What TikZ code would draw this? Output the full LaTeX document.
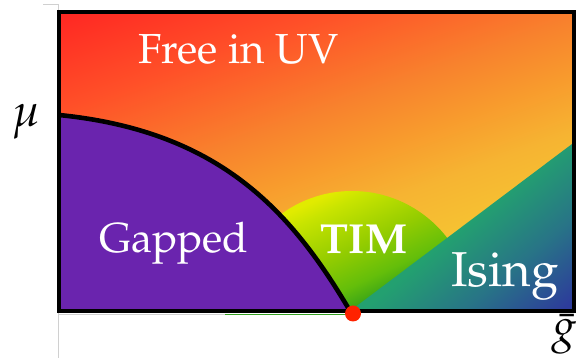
\documentclass[tikz,border=0pt]{standalone}
\usepackage[T1]{fontenc}
\usepackage{mathpazo}
\definecolor{gapPurple}{HTML}{6A24AE}
\definecolor{dotRed}{HTML}{FF2200}
\definecolor{axisGray}{HTML}{D0D0D0}
\definecolor{timLine}{HTML}{34A020}
% background shading stops
\definecolor{bgA}{RGB}{246,205,50}
\definecolor{bgB}{RGB}{246,202,50}
\definecolor{bgC}{RGB}{246,180,50}
\definecolor{bgD}{RGB}{248,155,45}
\definecolor{bgE}{RGB}{248,130,45}
\definecolor{bgF}{RGB}{255,80,40}
\definecolor{bgG}{RGB}{255,40,35}
\pgfdeclareverticalshading{bgshade}{100bp}{color(0bp)=(bgA); color(38bp)=(bgB); color(45bp)=(bgC); color(49.4bp)=(bgD); color(53.75bp)=(bgE); color(61.3bp)=(bgF); color(68.7bp)=(bgG); color(100bp)=(bgG)}
% Ising shading stops
\definecolor{isA}{RGB}{45,55,158}
\definecolor{isB}{RGB}{45,60,155}
\definecolor{isC}{RGB}{40,115,135}
\definecolor{isD}{RGB}{35,160,112}
\definecolor{isE}{RGB}{35,172,108}
\pgfdeclareverticalshading{isingshade}{100bp}{color(0bp)=(isA); color(34bp)=(isB); color(41.75bp)=(isC); color(50bp)=(isD); color(100bp)=(isE)}
% TIM shading stops
\definecolor{tmA}{RGB}{40,155,30}
\definecolor{tmB}{RGB}{50,160,25}
\definecolor{tmC}{RGB}{100,190,10}
\definecolor{tmD}{RGB}{150,205,0}
\definecolor{tmE}{RGB}{200,228,0}
\definecolor{tmF}{RGB}{225,235,0}
\definecolor{tmG}{RGB}{228,236,0}
\pgfdeclareverticalshading{timshade}{100bp}{color(0bp)=(tmA); color(40bp)=(tmB); color(44.3bp)=(tmC); color(50.8bp)=(tmD); color(58.3bp)=(tmE); color(61bp)=(tmF); color(100bp)=(tmG)}
\tikzset{
  phaselabel/.style={text=white, anchor=base, inner sep=0pt},
  axislabel/.style={text=black, anchor=base, inner sep=0pt},
  border/.style={line width=4.3pt, black},
}
\begin{document}
\begin{tikzpicture}[x=1pt,y=1pt]
\useasboundingbox (0,0) rectangle (576,358);
% coordinates
\coordinate (BL) at (59,47);
\coordinate (BR) at (574,47);
\coordinate (TR) at (574,346);
\coordinate (gapTop) at (59,243);
\coordinate (crit) at (350,47);
\coordinate (isingEnd) at (574,215.5);
\coordinate (domeL) at (232,47);
% gray axis lines
\coordinate (axTop) at (58.5,354);
\coordinate (axTick) at (43,354);
\coordinate (axBot) at (58.5,0);
\draw[axisGray, line width=0.8pt] (axTick) -- (axTop) -- (axBot);
\coordinate (gl1) at (58.5,43.5);
\coordinate (gl2) at (225,43.5);
\coordinate (gl3) at (350,43.5);
\draw[axisGray, line width=0.8pt] (gl1) -- (gl2);
\draw[timLine, line width=0.8pt] (gl2) -- (gl3);
% background
\begin{scope}
  \clip (BL) rectangle (TR);
  \begin{scope}[transform canvas={rotate around={20:(316.5,196.5)}}]
    \shade[shading=bgshade] (16.5,-103.5) rectangle (616.5,496.5);
  \end{scope}
\end{scope}
% TIM dome
\begin{scope}
  \clip (domeL) arc[start angle=180, end angle=0, radius=120] -- cycle;
  \begin{scope}[transform canvas={rotate around={25:(352,107)}}]
    \shade[shading=timshade] (212,-33) rectangle (492,247);
  \end{scope}
\end{scope}
% Ising
\begin{scope}
  \clip (crit) -- (isingEnd) -- (BR) -- cycle;
  \begin{scope}[transform canvas={rotate around={40:(462,131.5)}}]
    \shade[shading=isingshade] (262,-68.5) rectangle (662,331.5);
  \end{scope}
\end{scope}
% Gapped
\fill[gapPurple] (BL) -- (gapTop) .. controls (218,227) and (290,149) .. (crit) -- cycle;
\draw[black, line width=4.6pt] (gapTop) .. controls (218,227) and (290,149) .. (crit);
% border
\draw[border] (BL) rectangle (TR);
% critical point
\node[circle, fill=dotRed, minimum size=16pt, inner sep=0pt] (dot) at (353,44.5) {};
% labels
\node[phaselabel, font=\fontsize{42}{46}\selectfont] (free) at (238.5,294.5) {Free in UV};
\node[phaselabel, font=\fontsize{42}{46}\selectfont] (gapped) at (174,105) {Gapped};
\node[phaselabel, font=\fontsize{42}{46}\selectfont\bfseries] (tim) at (364,104) {TIM};
\node[phaselabel, font=\fontsize{49}{52}\selectfont] (ising) at (505,71) {Ising};
\node[axislabel, font=\fontsize{46}{50}\selectfont] (mu) at (26,231) {$\mu$};
\node[axislabel, font=\fontsize{46}{50}\selectfont] (g) at (564,16) {$\bar{g}$};
\end{tikzpicture}
\end{document}
